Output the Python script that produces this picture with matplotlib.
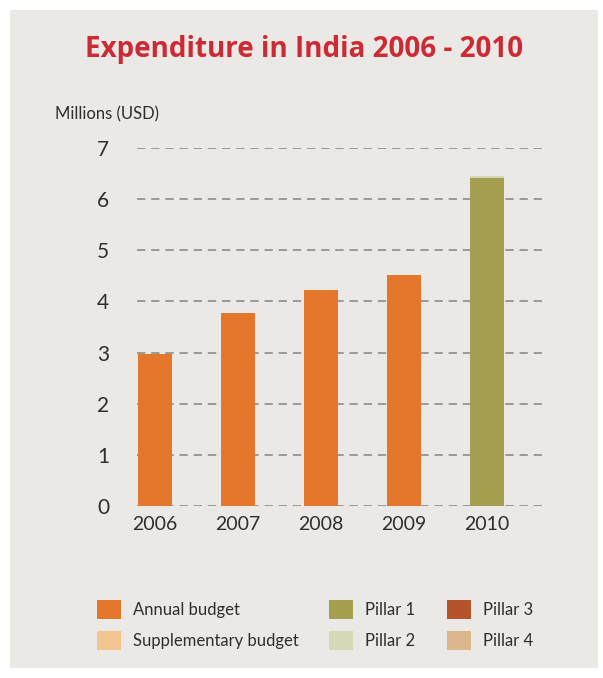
import matplotlib
matplotlib.use("Agg")
import matplotlib.pyplot as plt
from matplotlib.patches import Patch, Rectangle
import numpy as np

# values (millions USD)
years = ["2006", "2007", "2008", "2009", "2010"]
annual_budget = [2.97, 3.77, 4.23, 4.52, 0.0]
pillar_1 = [0.0, 0.0, 0.0, 0.0, 6.41]
pillar_2 = [0.0, 0.0, 0.0, 0.0, 0.04]
y_ticks = [0, 1, 2, 3, 4, 5, 6, 7]

legend_labels = ["Annual budget", "Supplementary budget", "Pillar 1",
                 "Pillar 2", "Pillar 3", "Pillar 4"]
legend_colors = ["#e5772a", "#f2c68e", "#a5a050", "#d6d9b8", "#b5532b", "#dcb68c"]

FONT = ["Lato", "DejaVu Sans"]
TEXT = "#2e2e2e"
BG = "#ebe9e5"

fig = plt.figure(figsize=(6.03, 6.78), dpi=100)
fig.patch.set_facecolor("white")
fig.patches.append(Rectangle((10 / 603, 10 / 678), 588 / 603, 658 / 678,
                             transform=fig.transFigure, facecolor=BG,
                             edgecolor="none", zorder=-5))

ax = fig.add_axes([137 / 603, 172 / 678, 405 / 603, 358 / 678])
ax.set_facecolor("none")
ax.set_zorder(2)

x = np.arange(len(years))
w = 0.41
ax.bar(x, annual_budget, width=w, color=legend_colors[0], zorder=3)
ax.bar(x, pillar_1, width=w, color=legend_colors[2], zorder=3)
ax.bar(x, pillar_2, width=w, bottom=pillar_1, color=legend_colors[3], zorder=3)

ax.set_xlim(-0.217, 4.66)
ax.set_ylim(0, 7)
ax.set_yticks(y_ticks)
ax.set_yticklabels([str(v) for v in y_ticks], family=FONT, fontsize=15, color=TEXT)
ax.set_xticks(x)
ax.set_xticklabels(years, family=FONT, fontsize=14, color=TEXT)
ax.tick_params(axis="y", length=0, pad=20)
ax.tick_params(axis="x", length=0, pad=7)

ax.grid(axis="y", color="#8c8c8c", linestyle=(0, (5, 3.5)), linewidth=1.2)
ax.set_axisbelow(True)
for s in ax.spines.values():
    s.set_visible(False)

fig.text(0.505, 0.927, "Expenditure in India 2006 - 2010", ha="center", va="center",
         fontsize=20, fontweight="bold", color="#cc2a35",
         family=["Open Sans", "DejaVu Sans"])
fig.text(55 / 603, 1 - 114 / 678, "Millions (USD)", ha="left", va="center",
         family=FONT, fontsize=12, color=TEXT)

# three legend columns, two entries each
col_x = [97, 329, 447]
for i, cx in enumerate(col_x):
    hs = [Patch(facecolor=c, edgecolor="none") for c in legend_colors[2 * i:2 * i + 2]]
    fig.legend(hs, legend_labels[2 * i:2 * i + 2], loc="upper left",
               bbox_to_anchor=(cx / 603, 1 - 600 / 678), frameon=False,
               prop={"family": FONT, "size": 12}, labelcolor=TEXT,
               handlelength=1.45, handleheight=1.4, handletextpad=0.7,
               labelspacing=0.7, borderaxespad=0, borderpad=0)

fig.savefig("out.png", dpi=100, facecolor=fig.get_facecolor())
